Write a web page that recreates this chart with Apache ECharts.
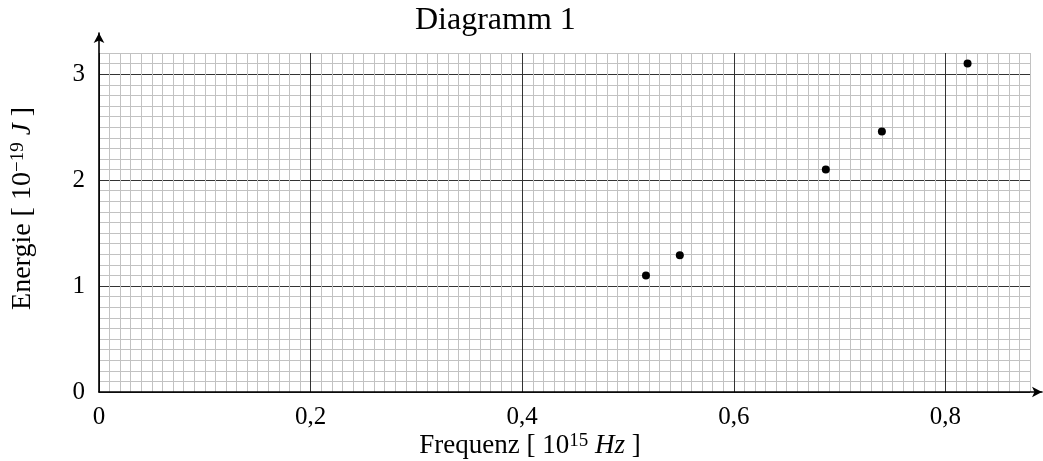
<!DOCTYPE html>
<html>
<head>
<meta charset="utf-8">
<script src="https://cdn.jsdelivr.net/npm/echarts@6/dist/echarts.min.js"></script>
<style>html,body{margin:0;padding:0;background:#fff}#c{width:1043px;height:461px}</style>
</head>
<body>
<div id="c"></div>
<script>
// ---- data ----
const frequency = [0.517, 0.549, 0.687, 0.740, 0.821];   // 10^15 Hz
const energy    = [1.10, 1.29, 2.10, 2.46, 3.10];        // 10^-19 J
const xTickLabels = ['0', '0,2', '0,4', '0,6', '0,8'];
const yTickLabels = ['0', '1', '2', '3'];
const titleText = 'Diagramm 1';

const FONT = 'Liberation Serif';
const points = frequency.map((f, i) => [f, energy[i]]);

const chart = echarts.init(document.getElementById('c'), null, {renderer: 'canvas'});
const baseRich = {
  sup: {fontFamily: FONT, fontSize: 19, lineHeight: 19, verticalAlign: 'top', color: '#000'},
  it: {fontFamily: FONT, fontSize: 27, fontStyle: 'italic', color: '#000'}
};
const minorLine = {show: true, lineStyle: {color: '#c2c2c2', width: 1}};
const majorLine = {show: true, showMaxLine: false, lineStyle: {color: '#333', width: 1}};
const hidden = {show: false};

chart.setOption({
  animation: false,
  backgroundColor: '#fff',
  title: {
    text: titleText, left: 415, top: 5, padding: 0,
    textStyle: {fontFamily: FONT, fontSize: 32, fontWeight: 'normal', color: '#000'}
  },
  grid: [
    {left: 99, right: 13, top: 53, bottom: 69, containLabel: false, outerBoundsMode: 'none'},
    {left: 99, right: 1, top: 33, bottom: 69, containLabel: false, outerBoundsMode: 'none'}
  ],
  xAxis: [
    {gridIndex: 0, type: 'value', position: 'bottom', min: 0, max: 0.88, interval: 0.01,
     axisLine: hidden, axisTick: hidden, axisLabel: hidden, splitLine: minorLine},
    {gridIndex: 0, type: 'value', position: 'bottom', min: 0, max: 0.88, interval: 0.2,
     axisLine: hidden, axisTick: hidden, splitLine: majorLine,
     axisLabel: {show: true, showMaxLabel: false, margin: 13, fontFamily: FONT, fontSize: 25, color: '#000',
       formatter: v => xTickLabels[Math.round(v / 0.2)] ?? ''}},
    {gridIndex: 1, type: 'value', position: 'bottom', min: 0, max: 1,
     axisTick: hidden, axisLabel: hidden, splitLine: hidden,
     axisLine: {show: true, symbol: ['none', 'arrow'], symbolSize: [8, 10],
       lineStyle: {color: '#000', width: 1.6}},
     name: 'Frequenz [ 10{sup|15} {it|Hz} ]', nameLocation: 'middle', nameGap: 40,
     nameTextStyle: {fontFamily: FONT, fontSize: 27, lineHeight: 28, color: '#000', padding: [0, 81, 0, 0], rich: baseRich}}
  ],
  yAxis: [
    {gridIndex: 0, type: 'value', position: 'left', min: 0, max: 3.2, interval: 0.1,
     axisLine: hidden, axisTick: hidden, axisLabel: hidden, splitLine: minorLine},
    {gridIndex: 0, type: 'value', position: 'left', min: 0, max: 3.2, interval: 1,
     axisLine: hidden, axisTick: hidden, splitLine: majorLine,
     axisLabel: {show: true, showMaxLabel: false, margin: 14, fontFamily: FONT, fontSize: 25, color: '#000',
       formatter: v => yTickLabels[Math.round(v)] ?? ''}},
    {gridIndex: 1, type: 'value', position: 'left', min: 0, max: 1,
     axisTick: hidden, axisLabel: hidden, splitLine: hidden,
     axisLine: {show: true, symbol: ['none', 'arrow'], symbolSize: [8, 10],
       lineStyle: {color: '#000', width: 1.6}},
     name: 'Energie [ 10{sup|−19} {it|J} ]', nameLocation: 'middle', nameGap: 62, nameRotate: 90,
     nameTextStyle: {fontFamily: FONT, fontSize: 28, lineHeight: 28, color: '#000', padding: [0, 0, 0, 8], rich: baseRich}}
  ],
  series: [{
    type: 'scatter', xAxisIndex: 1, yAxisIndex: 1,
    data: points, symbol: 'circle', symbolSize: 8,
    itemStyle: {color: '#000', opacity: 1}, z: 10
  }]
});
</script>
</body>
</html>
